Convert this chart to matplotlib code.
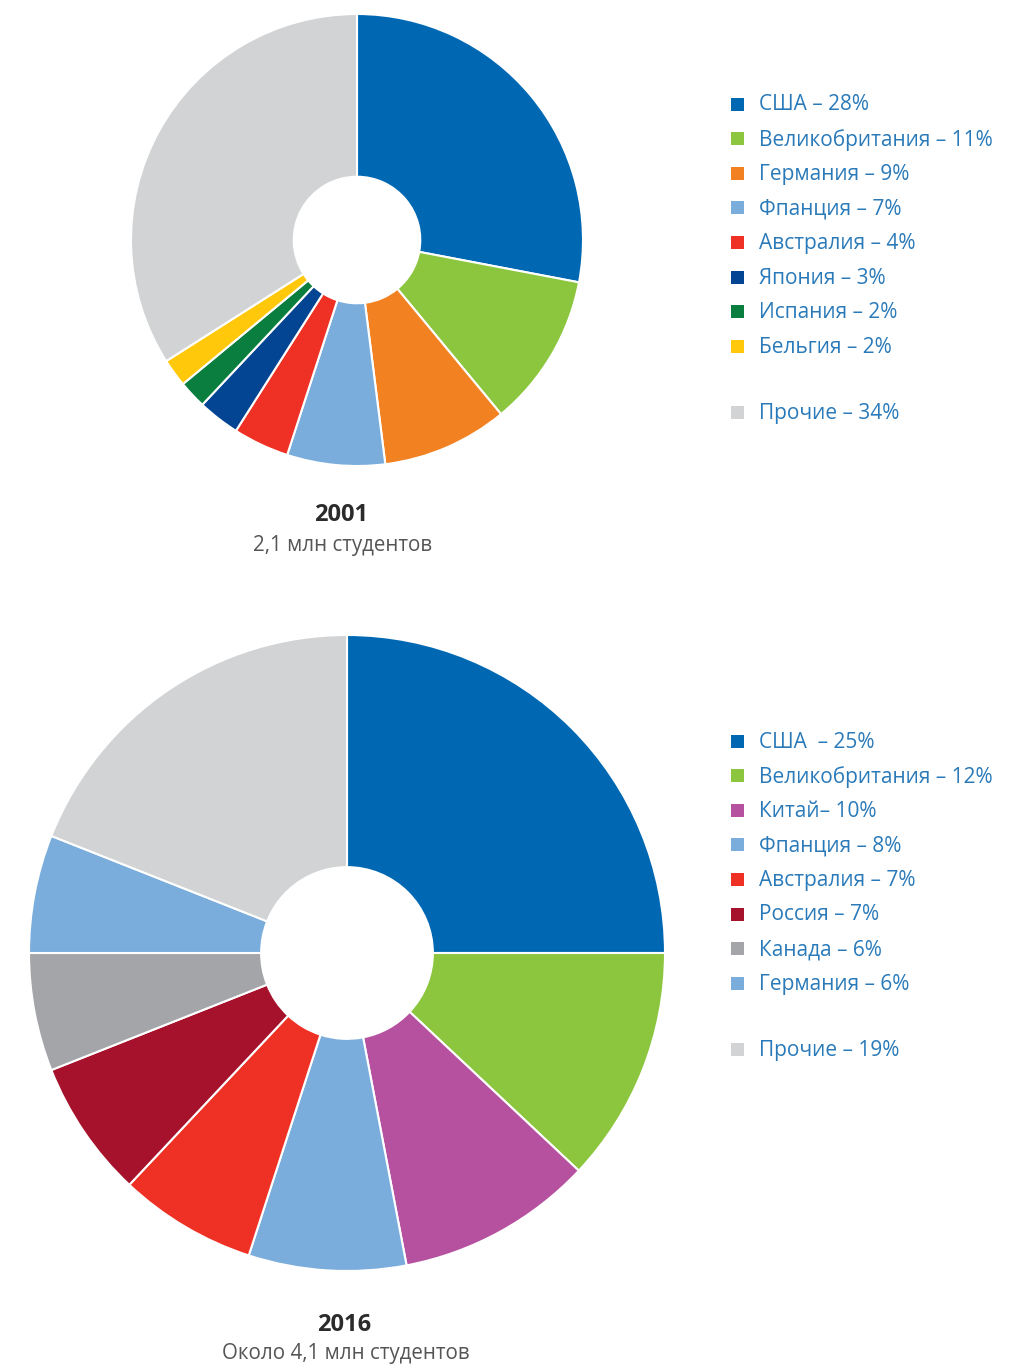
import matplotlib.pyplot as plt
from matplotlib.patches import Rectangle

plt.rcParams['font.family'] = ['Open Sans', 'DejaVu Sans']

# --- данные 2001
labels_2001 = ['США – 28%', 'Великобритания – 11%', 'Германия – 9%', 'Фпанция – 7%',
               'Австралия – 4%', 'Япония – 3%', 'Испания – 2%', 'Бельгия – 2%', 'Прочие – 34%']
values_2001 = [28, 11, 9, 7, 4, 3, 2, 2, 34]
colors_2001 = ['#0068b3', '#8cc63e', '#f28122', '#7aaddc', '#ee3124',
               '#034592', '#0a7e3e', '#ffc80b', '#d1d3d4']

# --- данные 2016
labels_2016 = ['США  – 25%', 'Великобритания – 12%', 'Китай– 10%', 'Фпанция – 8%',
               'Австралия – 7%', 'Россия – 7%', 'Канада – 6%', 'Германия – 6%', 'Прочие – 19%']
values_2016 = [25, 12, 10, 8, 7, 7, 6, 6, 19]
colors_2016 = ['#0068b3', '#8cc63e', '#b5519f', '#7aaddc', '#ee3124',
               '#a6112b', '#a3a5a8', '#7aaddc', '#d1d3d4']

W, H = 1011, 1367
fig = plt.figure(figsize=(W / 100, H / 100), dpi=100)


def donut(cx, cy, r, hole, values, colors):
    ax = fig.add_axes([(cx - r) / W, 1 - (cy + r) / H, 2 * r / W, 2 * r / H])
    ax.pie(values, colors=colors, startangle=90, counterclock=False, radius=1,
           wedgeprops=dict(width=1 - hole, edgecolor='white', linewidth=1.5))
    ax.set_xlim(-1, 1)
    ax.set_ylim(-1, 1)
    ax.axis('off')


donut(357, 240, 226, 0.28, values_2001, colors_2001)
donut(347, 953, 318, 0.27, values_2016, colors_2016)

# слой для подписей в пикселях
ov = fig.add_axes([0, 0, 1, 1])
ov.set_xlim(0, W)
ov.set_ylim(H, 0)
ov.axis('off')

text_color = '#2a7ab9'


def legend(y0, labels, colors, step=34.6, gap=32):
    for i, (lab, col) in enumerate(zip(labels, colors)):
        y = y0 + i * step + (gap if i == len(labels) - 1 else 0)
        ov.add_patch(Rectangle((731, y - 6.5), 13, 13, color=col, lw=0))
        ov.text(759, y + 1, lab, fontsize=15, color=text_color, va='center', ha='left')


legend(104, labels_2001, colors_2001)
legend(741, labels_2016, colors_2016)

ov.text(341, 515, '2001', fontsize=17, fontweight='bold', color='#2b2b2b', ha='center', va='center')
ov.text(343, 545, '2,1 млн студентов', fontsize=14.8, color='#555555', ha='center', va='center')
ov.text(344, 1325, '2016', fontsize=17, fontweight='bold', color='#2b2b2b', ha='center', va='center')
ov.text(346, 1354, 'Около 4,1 млн студентов', fontsize=14.8, color='#555555', ha='center', va='center')

fig.savefig('out.png', dpi=100)
